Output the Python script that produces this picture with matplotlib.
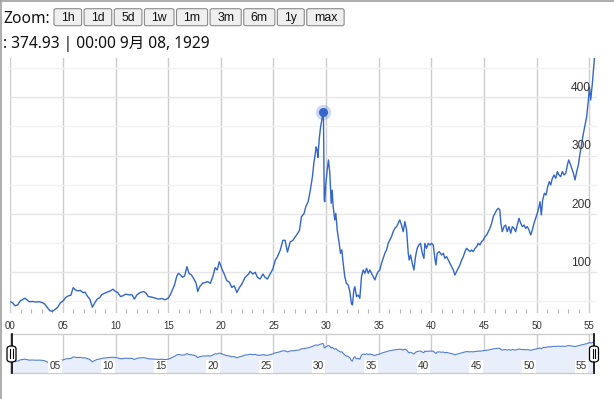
import matplotlib
matplotlib.use("Agg")
import matplotlib.pyplot as plt
from matplotlib.lines import Line2D
from matplotlib.patches import FancyBboxPatch
import numpy as np

# weekly close, fractional years
years = [
    1900.00, 1900.20, 1900.44, 1900.70, 1900.94, 1901.15, 1901.38, 1901.57, 1901.80, 1902.10,
    1902.40, 1902.75, 1903.05, 1903.27, 1903.50, 1903.77, 1904.00, 1904.30, 1904.50, 1904.77,
    1905.03, 1905.25, 1905.50, 1905.75, 1905.97, 1906.20, 1906.40, 1906.65, 1906.90, 1907.10,
    1907.30, 1907.55, 1907.80, 1908.00, 1908.25, 1908.50, 1908.70, 1908.95, 1909.20, 1909.50,
    1909.75, 1910.00, 1910.20, 1910.47, 1910.70, 1910.94, 1911.25, 1911.56, 1911.78, 1912.03,
    1912.34, 1912.66, 1912.90, 1913.10, 1913.44, 1913.75, 1914.06, 1914.40, 1914.70, 1915.00,
    1915.20, 1915.40, 1915.60, 1915.80, 1915.97, 1916.16, 1916.35, 1916.56, 1916.78, 1916.97,
    1917.20, 1917.40, 1917.65, 1917.80, 1918.00, 1918.28, 1918.50, 1918.75, 1919.00, 1919.24,
    1919.46, 1919.65, 1919.85, 1920.10, 1920.32, 1920.57, 1920.82, 1921.04, 1921.27, 1921.52,
    1921.77, 1921.99, 1922.30, 1922.63, 1922.78, 1923.04, 1923.26, 1923.48, 1923.73, 1923.99,
    1924.20, 1924.43, 1924.68, 1924.94, 1925.16, 1925.38, 1925.63, 1925.89, 1926.10, 1926.33,
    1926.58, 1926.84, 1927.06, 1927.28, 1927.47, 1927.65, 1927.91, 1928.07, 1928.29, 1928.50,
    1928.70, 1928.83, 1928.95, 1929.05, 1929.14, 1929.22, 1929.35, 1929.48, 1929.60, 1929.69,
    1929.75, 1929.82, 1929.87, 1929.97, 1930.10, 1930.22, 1930.35, 1930.48, 1930.57, 1930.67,
    1930.82, 1930.92, 1931.05, 1931.24, 1931.36, 1931.49, 1931.62, 1931.77, 1931.93, 1932.09,
    1932.25, 1932.40, 1932.50, 1932.63, 1932.73, 1932.88, 1933.04, 1933.20, 1933.36, 1933.52,
    1933.68, 1933.84, 1934.00, 1934.15, 1934.31, 1934.47, 1934.63, 1934.79, 1934.94, 1935.10,
    1935.26, 1935.42, 1935.58, 1935.74, 1935.90, 1936.05, 1936.21, 1936.37, 1936.53, 1936.69,
    1936.85, 1937.00, 1937.16, 1937.32, 1937.48, 1937.64, 1937.80, 1937.89, 1938.02, 1938.18,
    1938.34, 1938.49, 1938.65, 1938.81, 1938.97, 1939.13, 1939.29, 1939.38, 1939.54, 1939.70,
    1939.86, 1940.02, 1940.17, 1940.33, 1940.43, 1940.55, 1940.74, 1940.97, 1941.13, 1941.28,
    1941.44, 1941.60, 1941.76, 1941.92, 1942.08, 1942.23, 1942.39, 1942.55, 1942.71, 1942.87,
    1943.03, 1943.19, 1943.34, 1943.50, 1943.66, 1943.82, 1943.98, 1944.14, 1944.30, 1944.45,
    1944.61, 1944.77, 1944.93, 1945.09, 1945.25, 1945.40, 1945.56, 1945.72, 1945.88, 1946.04,
    1946.20, 1946.36, 1946.50, 1946.60, 1946.73, 1946.90, 1947.05, 1947.20, 1947.37, 1947.53,
    1947.69, 1947.85, 1948.00, 1948.16, 1948.32, 1948.48, 1948.64, 1948.80, 1948.95, 1949.11,
    1949.27, 1949.43, 1949.59, 1949.75, 1949.90, 1950.06, 1950.22, 1950.32, 1950.44, 1950.57,
    1950.73, 1950.89, 1951.05, 1951.20, 1951.33, 1951.49, 1951.65, 1951.81, 1951.97, 1952.12,
    1952.28, 1952.44, 1952.60, 1952.76, 1952.92, 1953.04, 1953.17, 1953.33, 1953.49, 1953.64,
    1953.80, 1953.96, 1954.12, 1954.28, 1954.44, 1954.60, 1954.75, 1954.91, 1955.01, 1955.13,
    1955.29, 1955.39, 1955.50,
]
dow = [
    49.5, 48.0, 42.7, 44.0, 51.0, 53.0, 55.6, 53.0, 49.5, 50.0,
    49.0, 49.5, 48.0, 45.5, 40.0, 34.0, 33.0, 37.0, 40.0, 48.0,
    51.0, 56.7, 59.5, 60.7, 73.6, 69.7, 68.0, 69.0, 65.0, 66.0,
    59.5, 54.0, 40.0, 47.0, 54.0, 56.7, 62.0, 64.0, 66.0, 68.0,
    71.0, 67.0, 65.3, 58.5, 59.7, 62.5, 61.4, 61.4, 54.0, 61.4,
    65.3, 67.0, 64.2, 58.5, 57.4, 55.7, 54.0, 55.0, 52.8, 55.7,
    61.4, 69.9, 78.4, 92.6, 98.3, 95.5, 91.5, 93.8, 109.7, 98.3,
    95.5, 89.8, 81.3, 67.0, 75.6, 81.3, 82.4, 84.0, 81.0, 93.0,
    108.0, 104.0, 118.0, 105.8, 97.0, 85.6, 82.7, 74.0, 76.9, 65.4,
    74.0, 79.8, 91.3, 97.0, 101.7, 97.0, 100.0, 91.3, 88.5, 97.0,
    91.3, 88.5, 97.0, 105.8, 120.2, 127.0, 137.5, 154.8, 154.8, 134.6,
    152.0, 154.8, 160.6, 166.4, 172.0, 195.0, 201.0, 212.6, 221.0, 241.0,
    264.0, 286.9, 301.0, 315.0, 309.7, 297.0, 330.0, 350.0, 362.0, 374.93,
    360.0, 224.0, 221.0, 252.0, 275.0, 292.6, 269.7, 218.3, 241.0, 212.6,
    189.7, 201.0, 172.6, 149.7, 132.6, 138.3, 115.4, 92.6, 81.1, 78.3,
    66.9, 46.9, 44.0, 69.7, 75.4, 58.3, 61.1, 55.4, 92.6, 104.0,
    98.3, 106.9, 98.3, 104.0, 98.3, 92.6, 86.9, 95.4, 101.0, 104.0,
    115.4, 124.0, 132.6, 138.3, 149.7, 155.4, 161.1, 169.7, 175.4, 178.3,
    184.0, 189.7, 181.1, 169.7, 186.9, 172.6, 132.6, 121.0, 129.7, 115.4,
    104.0, 126.9, 141.1, 146.9, 149.7, 132.6, 124.0, 149.7, 141.1, 149.7,
    146.9, 149.7, 146.9, 124.0, 112.6, 132.6, 135.4, 129.7, 132.6, 124.0,
    126.9, 121.0, 115.4, 109.7, 104.0, 95.4, 101.0, 106.9, 112.6, 121.0,
    126.9, 135.4, 141.1, 138.3, 135.4, 138.3, 135.4, 141.1, 144.0, 149.7,
    146.9, 152.6, 155.4, 161.1, 164.0, 169.7, 175.4, 184.0, 195.4, 201.0,
    206.9, 209.7, 206.9, 184.0, 169.7, 178.3, 181.1, 169.7, 178.3, 166.9,
    178.3, 175.4, 169.7, 181.1, 192.6, 184.0, 178.3, 181.1, 175.4, 178.3,
    172.6, 164.0, 172.6, 184.0, 192.6, 201.0, 212.6, 221.0, 198.3, 224.0,
    235.4, 232.6, 246.9, 255.4, 249.7, 261.1, 266.9, 261.1, 272.6, 266.9,
    264.0, 272.6, 266.9, 269.7, 284.0, 292.6, 286.9, 278.3, 269.7, 258.3,
    272.6, 284.0, 304.0, 321.1, 338.3, 352.6, 366.9, 395.4, 418.3, 395.4,
    424.0, 446.9, 470.0,
]

peak_year = 1929.69
peak_value = 374.93
readout = ": 374.93 | 00:00 9月 08, 1929"
zoom_buttons = ["1h", "1d", "5d", "1w", "1m", "3m", "6m", "1y", "max"]
year_ticks = list(range(1900, 1956, 5))
year_labels = ["00", "05", "10", "15", "20", "25", "30", "35", "40", "45", "50", "55"]
value_ticks = [100, 200, 300, 400]

W, H = 614, 399
BLUE = "#3366cc"
GRID = "#cccccc"
AXIS_FONT = "Liberation Sans"
HEAD_FONT = ["Noto Sans", "Noto Sans CJK JP", "DejaVu Sans"]


def fx(px):
    return px / W


def fy(py):
    return 1 - py / H


fig = plt.figure(figsize=(W / 100, H / 100), dpi=100)

# outer frame, left and top
fig.add_artist(Line2D([fx(0.6), fx(0.6)], [0, 1], color="#a0a0a0", lw=1.2))
fig.add_artist(Line2D([0, 1], [fy(0.6), fy(0.6)], color="#a0a0a0", lw=1.2))

# header: zoom buttons and readout
fig.text(fx(3), fy(22.7), "Zoom:", fontsize=11.2, family=HEAD_FONT, color="#111", va="baseline")
renderer = fig.canvas.get_renderer()
bx = 54
for label in zoom_buttons:
    t = fig.text(0, fy(20.9), label, fontsize=8.8, family=AXIS_FONT, color="#111",
                 va="baseline", ha="center", zorder=3)
    bw = t.get_window_extent(renderer).width + 14
    fig.add_artist(FancyBboxPatch((fx(bx), fy(25.7)), fx(bw), 17 / H,
                                  boxstyle="round,pad=0,rounding_size=0.004",
                                  transform=fig.transFigure, fc="#efefef", ec="#8a8a8a",
                                  lw=0.8, zorder=2))
    t.set_x(fx(bx + bw / 2))
    bx += bw + 2.5
fig.text(fx(3), fy(48.3), readout, fontsize=11.2, family=HEAD_FONT, color="#111", va="baseline")

# main chart
ax = fig.add_axes([fx(10), fy(313), fx(597) - fx(10), (313 - 58) / H])
ax.plot(years, dow, color=BLUE, lw=1.0, zorder=3)
ax.plot(peak_year, peak_value, "o", ms=11, color=BLUE, alpha=0.25, mec="none", zorder=4)
ax.plot(peak_year, peak_value, "o", ms=6.5, color=BLUE, mec="none", zorder=5)
ax.set_xlim(1899.97, 1955.73)
ax.set_ylim(30.2, 467.4)
for s in ax.spines.values():
    s.set_visible(False)
ax.set_axisbelow(True)

ax.set_xticks(year_ticks, year_labels)
ax.set_xticks(range(1900, 1956), minor=True)
ax.tick_params(axis="x", which="major", length=0, pad=5.5, labelsize=7, labelcolor="#333")
for lab in ax.get_xticklabels():
    lab.set_family(AXIS_FONT)
ax.tick_params(axis="x", which="minor", direction="in", length=3, width=0.8, color="#b5b5b5")
ax.grid(axis="x", which="major", color=GRID, lw=1.0)

ax.set_yticks(value_ticks)
ax.set_yticks(np.arange(50, 500, 100), minor=True)
ax.tick_params(axis="y", which="both", length=0, labelleft=False)
ax.grid(axis="y", which="major", color="#e6e6e6", lw=1.0)
ax.grid(axis="y", which="minor", color="#f2f2f2", lw=1.0)
for v in value_ticks:
    ax.annotate(str(v), xy=(1, v), xycoords=("axes fraction", "data"),
                xytext=(-4.3, 6.8), textcoords="offset points", ha="right", va="center",
                fontsize=8.6, family=AXIS_FONT, color="#333", zorder=6)

# range navigator
nav = fig.add_axes([fx(10), fy(373), fx(594) - fx(10), (373 - 334) / H])
nav.set_yscale("log")
nav.fill_between(years, dow, 1, color="#e8eefa", lw=0, zorder=1)
nav.plot(years, dow, color=BLUE, lw=0.8, alpha=0.85, zorder=2)
nav.set_xlim(1899.97, 1955.45)
nav.set_ylim(10.3, 1200)
nav.set_axisbelow(True)
for side in ["left", "right"]:
    nav.spines[side].set_visible(False)
for side in ["top", "bottom"]:
    nav.spines[side].set_color(GRID)
    nav.spines[side].set_linewidth(1.0)
nav.set_xticks(year_ticks)
nav.set_xticks(range(1900, 1956), minor=True)
nav.tick_params(axis="x", which="major", length=0, labelbottom=False)
nav.tick_params(axis="x", which="minor", direction="in", length=3, width=0.8, color="#b5b5b5")
nav.tick_params(axis="y", which="both", length=0, labelleft=False)
nav.grid(axis="x", which="major", color=GRID, lw=1.0)
nav.grid(axis="y", visible=False)
for yr, lab in zip(year_ticks[1:], year_labels[1:]):
    nav.annotate(lab, xy=(yr, 0), xycoords=("data", "axes fraction"),
                 xytext=(-1.5, 4.8), textcoords="offset points", ha="right", va="center",
                 fontsize=7.2, family=AXIS_FONT, color="#333", zorder=4,
                 bbox=dict(boxstyle="square,pad=0.12", fc="white", ec="none"))

# navigator handles
for hx in [11.5, 594]:
    fig.add_artist(Line2D([fx(hx), fx(hx)], [fy(373), fy(334)], color="black", lw=1.2, zorder=5))
    fig.add_artist(FancyBboxPatch((fx(hx - 4.5), fy(362)), fx(9), 16 / H,
                                  boxstyle="round,pad=0,rounding_size=0.007",
                                  transform=fig.transFigure, fc="white", ec="black",
                                  lw=0.9, zorder=6))
    for dx in [-1.3, 1.3]:
        fig.add_artist(Line2D([fx(hx + dx), fx(hx + dx)], [fy(358), fy(349)],
                              color="black", lw=0.8, zorder=7))

fig.savefig("out.png", dpi=100)
